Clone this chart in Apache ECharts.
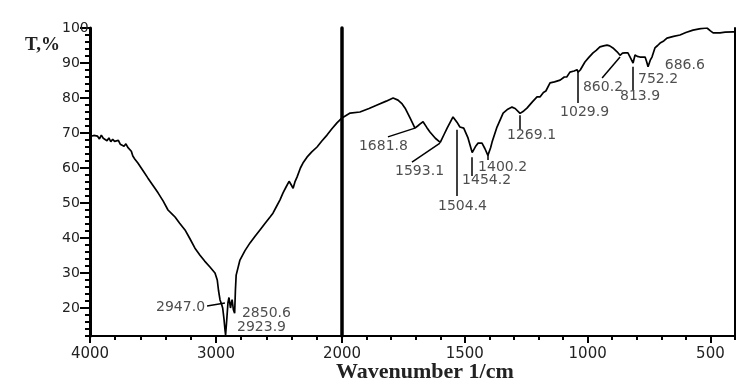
<!DOCTYPE html>
<html>
<head>
<meta charset="utf-8">
<script src="https://cdn.jsdelivr.net/npm/echarts@6/dist/echarts.min.js"></script>
<style>
  html, body {margin: 0; padding: 0; background: #ffffff;}
</style>
</head>
<body>
<div id="irSpectrum" style="width: 740px;height: 392px;"></div>
<script>
// transmittance, [wavenumber, T%]
// 4000-2000 is drawn at half the scale of 2000-400
const spectrumHigh = [
  [4000, 69.0], [3985, 68.6], [3970, 69.3], [3955, 68.8], [3940, 69.1], [3925, 68.3],
  [3910, 69.4], [3895, 68.5], [3880, 68.9], [3865, 67.8], [3850, 68.6], [3835, 67.5],
  [3820, 68.2], [3805, 67.6], [3790, 67.1], [3775, 67.9], [3760, 66.8], [3745, 67.3],
  [3730, 66.2], [3715, 66.9], [3700, 65.9], [3685, 66.3], [3672, 64.8], [3660, 63.4],
  [3645, 62.6], [3620, 61.4], [3580, 59.3], [3540, 57.1], [3500, 55.0], [3460, 52.9],
  [3420, 50.6], [3381, 48.0], [3350, 46.9], [3325, 46.0], [3290, 44.3], [3246, 42.3],
  [3210, 40.0], [3167, 37.1], [3127, 35.1], [3090, 33.4], [3048, 31.7], [3008, 30.0],
  [2990, 28.0], [2980, 25.0], [2968, 22.3], [2955, 21.0], [2947, 20.0], [2937, 17.0],
  [2928, 13.5], [2923.9, 12.3], [2918, 15.0], [2905, 21.5], [2897, 23.0], [2885, 20.0],
  [2878, 21.5], [2872, 22.4], [2862, 19.5], [2852, 18.5], [2846, 25.0], [2840, 29.4],
  [2810, 33.7], [2770, 36.4], [2730, 38.6], [2690, 40.5], [2651, 42.3], [2610, 44.2],
  [2571, 46.0], [2548, 47.1], [2520, 49.0], [2492, 50.9], [2468, 52.9], [2445, 54.5],
  [2420, 56.2], [2400, 55.0], [2388, 54.2], [2372, 56.2], [2357, 57.4], [2330, 60.0],
  [2310, 61.4], [2278, 63.1], [2240, 64.6], [2198, 66.0], [2160, 67.7], [2119, 69.4],
  [2080, 71.2], [2040, 72.9], [2000, 74.3]
];
const spectrumLow = [
  [2000, 74.3], [1967, 75.7], [1927, 76.0], [1890, 77.0], [1857, 78.0], [1820, 79.1],
  [1792, 80.0], [1772, 79.4], [1755, 78.3], [1743, 77.1], [1723, 74.3], [1703, 71.4],
  [1692, 72.0], [1681.8, 72.6], [1670, 73.2], [1655, 71.6], [1642, 70.3], [1620, 68.5],
  [1600, 67.3], [1585, 69.5], [1572, 71.4], [1548, 74.6], [1532, 73.1], [1520, 71.7],
  [1504.4, 71.4], [1487, 68.6], [1470, 64.4], [1455, 66.3], [1446, 67.1], [1430, 67.1],
  [1418, 65.5], [1406, 63.6], [1395, 65.8], [1389, 67.4], [1369, 71.7], [1344, 75.7],
  [1325, 76.8], [1308, 77.4], [1295, 77.0], [1287, 76.6], [1275, 75.6], [1260, 76.3],
  [1247, 77.1], [1225, 78.9], [1206, 80.3], [1194, 80.3], [1180, 81.6], [1170, 82.0],
  [1153, 84.3], [1135, 84.6], [1112, 85.1], [1095, 86.0], [1085, 86.0], [1072, 87.4],
  [1055, 87.7], [1043, 88.1], [1039, 87.4], [1030, 88.0], [1011, 90.3], [995, 91.6],
  [978, 92.9], [965, 93.6], [950, 94.6], [935, 94.9], [921, 95.1], [910, 94.9],
  [897, 94.3], [880, 93.2], [868, 92.2], [858, 92.8], [848, 92.9], [836, 92.9],
  [825, 91.4], [815, 90.0], [807, 92.3], [798, 91.9], [787, 91.7], [766, 91.7],
  [760, 90.4], [754, 88.9], [745, 90.8], [738, 91.7], [726, 94.3], [715, 95.0],
  [705, 95.7], [690, 96.3], [686.6, 96.0], [677, 97.1], [650, 97.6], [624, 98.0],
  [600, 98.7], [571, 99.4], [540, 99.8], [514, 100], [500, 99.2], [489, 98.6],
  [461, 98.6], [440, 98.8], [408, 98.9], [400, 98.9]
];

// peak labels: [text, wavenumber where text sits, T where text sits]
const peakLabelsHigh = [
  ['2947.0', 3087, 20.3],
  ['2850.6', 2794, 18.6],
  ['2923.9', 2833, 14.6]
];
const peakLabelsLow = [
  ['1681.8', 1931, 66.3],
  ['1593.1', 1784, 58.9],
  ['1504.4', 1609, 49.1],
  ['1454.2', 1511, 56.6],
  ['1400.2', 1446, 60.3],
  ['1269.1', 1328, 69.4],
  ['1029.9', 1112, 76.0],
  ['860.2', 1019, 82.9],
  ['813.9', 868, 80.6],
  ['752.2', 795, 85.4],
  ['686.6', 686, 89.4]
];
// leader lines from label to peak: [wn1, T1, wn2, T2]
const leadersHigh = [
  [3071, 20.6, 2929, 21.4]
];
const leadersLow = [
  [1813, 68.9, 1703, 71.4],
  [1715, 61.7, 1601, 67.1],
  [1532, 70.9, 1532, 52.0],
  [1471, 63.1, 1471, 57.7],
  [1406, 64.0, 1406, 62.3],
  [1275, 75.1, 1275, 71.1],
  [1039, 87.4, 1039, 78.6],
  [941, 85.7, 868, 91.7],
  [815, 88.9, 815, 82.3]
];

const yMin = 12;
const yMax = 100;
const lineColor = '#000000';
const textColor = '#222222';

function labelSeries(list, idx, pos) {
  return {
    type: 'scatter',
    xAxisIndex: idx,
    yAxisIndex: idx === 0 ? 0 : 2,
    symbolSize: 0,
    silent: true,
    data: list.map(function (p) {
      return {name: p[0], value: [p[1], p[2]]};
    }),
    label: {
      show: true,
      position: pos,
      distance: 0,
      formatter: '{b}',
      color: textColor,
      fontFamily: 'DejaVu Sans',
      fontSize: 14
    },
    z: 5
  };
}

function leaderSeries(list, idx) {
  return {
    type: 'lines',
    coordinateSystem: 'cartesian2d',
    xAxisIndex: idx,
    yAxisIndex: idx === 0 ? 0 : 2,
    silent: true,
    data: list.map(function (l) {
      return {coords: [[l[0], l[1]], [l[2], l[3]]]};
    }),
    lineStyle: {color: lineColor, width: 1.5, opacity: 1},
    z: 5
  };
}

let option = {
  animation: false,
  backgroundColor: '#ffffff',
  title: [
    {
      text: 'T,%',
      left: 25, top: 36, padding: 0,
      textStyle: {fontFamily: 'Liberation Serif', fontWeight: 'bold', fontSize: 19, color: textColor}
    },
    {
      text: 'Wavenumber 1/cm',
      left: 336, top: 361, padding: 0,
      textStyle: {fontFamily: 'Liberation Serif', fontWeight: 'bold', fontSize: 22, color: textColor}
    }
  ],
  grid: [
    {left: 90, top: 28, width: 252, height: 308},
    {left: 342, top: 28, width: 393, height: 308}
  ],
  xAxis: [
    {
      gridIndex: 0, type: 'value', min: 2000, max: 4000, interval: 1000, inverse: true,
      position: 'bottom',
      axisLine: {lineStyle: {color: lineColor, width: 2}},
      axisTick: {length: 7, lineStyle: {color: lineColor, width: 2}},
      minorTick: {show: true, splitNumber: 5, length: 4, lineStyle: {color: lineColor, width: 2}},
      splitLine: {show: false},
      axisLabel: {
        margin: 11, color: textColor, fontFamily: 'DejaVu Sans', fontSize: 15,
        formatter: function (v) { return v === 2000 ? '' : String(v); }
      }
    },
    {
      gridIndex: 1, type: 'value', min: 400, max: 2000, splitNumber: 3, inverse: true,
      position: 'bottom',
      axisLine: {lineStyle: {color: lineColor, width: 2}},
      axisTick: {length: 7, lineStyle: {color: lineColor, width: 2}},
      splitLine: {show: false},
      axisLabel: {
        margin: 11, color: textColor, fontFamily: 'DejaVu Sans', fontSize: 15,
        showMinLabel: false,
        formatter: function (v) { return String(v); }
      }
    },
    {
      gridIndex: 1, type: 'value', min: 400, max: 2000, interval: 100, inverse: true,
      position: 'bottom', offset: 0,
      axisLine: {show: false},
      axisTick: {length: 4, lineStyle: {color: lineColor, width: 2}},
      splitLine: {show: false},
      axisLabel: {show: false}
    }
  ],
  yAxis: [
    {
      gridIndex: 0, type: 'value', min: yMin, max: yMax, splitNumber: 9, position: 'left',
      axisLine: {show: true, lineStyle: {color: lineColor, width: 3}},
      axisTick: {show: true, length: 10, lineStyle: {color: lineColor, width: 2}},
      splitLine: {show: false},
      axisLabel: {
        margin: 28, align: 'left', color: textColor, fontFamily: 'DejaVu Sans', fontSize: 14,
        showMinLabel: false
      }
    },
    {
      gridIndex: 0, type: 'value', min: yMin, max: yMax, interval: 2, position: 'left', offset: 0,
      axisLine: {show: false},
      axisTick: {show: true, length: 5, lineStyle: {color: lineColor, width: 2}},
      splitLine: {show: false},
      axisLabel: {show: false}
    },
    {
      gridIndex: 1, type: 'value', min: yMin, max: yMax, position: 'left',
      axisLine: {show: true, lineStyle: {color: lineColor, width: 3.5}},
      axisTick: {show: false},
      splitLine: {show: false},
      axisLabel: {show: false}
    },
    {
      gridIndex: 1, type: 'value', min: yMin, max: yMax, position: 'right',
      axisLine: {show: true, lineStyle: {color: lineColor, width: 2}},
      axisTick: {show: false},
      splitLine: {show: false},
      axisLabel: {show: false}
    }
  ],
  series: [
    {
      type: 'line', xAxisIndex: 0, yAxisIndex: 0,
      data: spectrumHigh, showSymbol: false, symbol: 'none',
      lineStyle: {color: lineColor, width: 1.7}, z: 4
    },
    {
      type: 'line', xAxisIndex: 1, yAxisIndex: 2,
      data: spectrumLow, showSymbol: false, symbol: 'none',
      lineStyle: {color: lineColor, width: 1.7}, z: 4
    },
    labelSeries([peakLabelsHigh[0]], 0, 'left'),
    labelSeries(peakLabelsHigh.slice(1), 0, 'right'),
    labelSeries(peakLabelsLow, 1, 'right'),
    leaderSeries(leadersHigh, 0),
    leaderSeries(leadersLow, 1)
  ]
};

let irChart = echarts.init(document.getElementById('irSpectrum'), null, {
  width: 740,
  height: 392
});
irChart.setOption(option);
</script>
</body>
</html>
